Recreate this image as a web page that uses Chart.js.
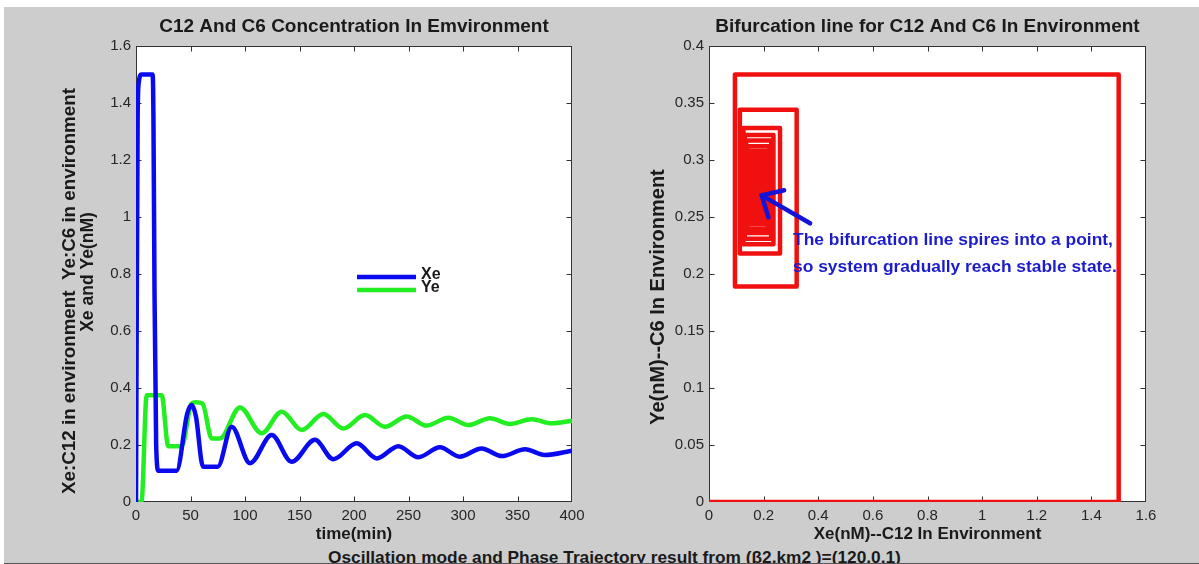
<!DOCTYPE html>
<html lang="en">
<head>
<meta charset="UTF-8">
<title>C12 / C6 oscillation and phase trajectory</title>
<script src="https://cdn.jsdelivr.net/npm/chart.js"></script>
<style>
    html, body {
        margin: 0;
        padding: 0;
        background: #fff;
    }
    body {
        position: relative;
        width: 1199px;
        height: 564px;
        overflow: hidden;
        font-family: 'Liberation Sans', Arial, sans-serif;
    }
    .panel {
        position: absolute;
        left: 4px;
        top: 7px;
        width: 1195px;
        height: 556px;
        background: #cdcdcd;
        border-bottom: 1px solid #555;
        overflow: hidden;
    }
    .caption {
        position: absolute;
        left: 324px;
        top: 540px;
        font-size: 17.3px;
        font-weight: bold;
        line-height: 20px;
        color: #1a1a1a;
        white-space: nowrap;
    }
    canvas {
        position: absolute;
        top: 0;
    }
    #timeChart { left: 0; }
    #phaseChart { left: 600px; }
</style>
</head>
<body>
<div class="panel">
    <div class="caption">Oscillation mode and Phase Trajectory result from (β2,km2 )=(120,0.1)</div>
</div>
<canvas id="timeChart" width="600" height="564"></canvas>
<canvas id="phaseChart" width="599" height="564"></canvas>

<script>
// Xe: C12 in environment (nM) over time (min)
const xeTime  = [0, 1.5, 2.5, 5, 15.3, 16, 17, 18.5, 20.5, 37.3, 47, 51, 55, 61.5, 75, 87.8, 104.6, 124.5, 142.8, 164.2, 181, 202.5, 220.8, 240.7, 259, 278.9, 297, 317, 335.5, 357, 375, 400];
const xeValue = [0, 1.35, 1.47, 1.5, 1.5, 1.35, 0.73, 0.2, 0.11, 0.11, 0.31, 0.34, 0.3, 0.124, 0.124, 0.264, 0.136, 0.235, 0.141, 0.218, 0.15, 0.206, 0.153, 0.196, 0.157, 0.192, 0.159, 0.188, 0.161, 0.185, 0.165, 0.18];

// Ye: C6 in environment (nM) over time (min)
const yeTime  = [0, 5, 9.8, 23.5, 29.6, 41.9, 51, 55, 61, 69.5, 77, 95.4, 115.3, 133.6, 152, 171.9, 190.2, 210, 228.4, 248.3, 266.7, 286.5, 304.9, 324.8, 343, 363, 381.4, 400];
const yeValue = [0, 0, 0.375, 0.375, 0.196, 0.196, 0.345, 0.35, 0.345, 0.223, 0.223, 0.332, 0.241, 0.317, 0.253, 0.309, 0.258, 0.305, 0.264, 0.3, 0.268, 0.296, 0.27, 0.294, 0.274, 0.29, 0.276, 0.285];

// phase trajectory (Xe, Ye): one corner per entry, spiralling in to the steady state
const phaseXe = [0, 1.5, 1.5,
    0.095, 0.095, 0.321, 0.321,
    0.113, 0.113, 0.26, 0.26,
    0.126, 0.126, 0.236, 0.236,
    0.131, 0.131, 0.228, 0.228,
    0.136, 0.136, 0.221, 0.221,
    0.14, 0.14, 0.215, 0.215,
    0.144, 0.144, 0.21, 0.21,
    0.148, 0.148, 0.206, 0.206,
    0.152, 0.152, 0.202, 0.202,
    0.155, 0.155, 0.198, 0.198,
    0.158, 0.158, 0.195, 0.195,
    0.161, 0.161, 0.192, 0.192,
    0.164, 0.164, 0.189, 0.189,
    0.167, 0.167, 0.187, 0.187,
    0.17, 0.17, 0.185, 0.185,
    0.175, 0.178];
const phaseYe = [0, 0, 0.375,
    0.375, 0.189, 0.189, 0.344,
    0.344, 0.218, 0.218, 0.328,
    0.328, 0.226, 0.226, 0.322,
    0.322, 0.231, 0.231, 0.317,
    0.317, 0.236, 0.236, 0.312,
    0.312, 0.24, 0.24, 0.308,
    0.308, 0.244, 0.244, 0.304,
    0.304, 0.248, 0.248, 0.3,
    0.3, 0.252, 0.252, 0.296,
    0.296, 0.255, 0.255, 0.293,
    0.293, 0.258, 0.258, 0.29,
    0.29, 0.261, 0.261, 0.287,
    0.287, 0.264, 0.264, 0.284,
    0.284, 0.267, 0.267, 0.281,
    0.281, 0.27, 0.27, 0.279,
    0.279, 0.275];

// annotation arrow: from tail to the point the spiral closes on
const arrowTail = [0.37, 0.2445];
const arrowTip  = [0.193, 0.269];
const noteLines = ['The bifurcation line spires into a point,', 'so system gradually reach stable state.'];

const BLUE = '#0a0aee';
const GREEN = '#22ee22';
const RED = '#f01010';
const INK = '#1a1a1a';
const FAMILY = "'Liberation Sans', Arial, sans-serif";

Chart.defaults.font.family = FAMILY;
Chart.defaults.color = '#262626';

const toPoints = (xs, ys) => xs.map((x, i) => ({ x: x, y: ys[i] }));

// white axes box with inward ticks on all four sides
const plotFrame = {
    id: 'plotFrame',
    beforeDraw(chart) {
        const { ctx, chartArea: a } = chart;
        ctx.save();
        ctx.fillStyle = '#fff';
        ctx.fillRect(a.left, a.top, a.width, a.height);
        ctx.restore();
    },
    beforeDatasetsDraw(chart) {
        const { ctx, chartArea: a, scales: { x, y } } = chart;
        const L = Math.round(a.left) + 0.5, R = Math.round(a.right) - 0.5;
        const T = Math.round(a.top) + 0.5, B = Math.round(a.bottom) - 0.5;
        const len = 5;
        ctx.save();
        ctx.strokeStyle = '#333';
        ctx.lineWidth = 1;
        ctx.strokeRect(L, T, R - L, B - T);
        ctx.beginPath();
        x.ticks.forEach(t => {
            const px = Math.round(x.getPixelForValue(t.value)) + 0.5;
            if (px <= L + 1 || px >= R - 1) return;
            ctx.moveTo(px, B); ctx.lineTo(px, B - len);
            ctx.moveTo(px, T); ctx.lineTo(px, T + len);
        });
        y.ticks.forEach(t => {
            const py = Math.round(y.getPixelForValue(t.value)) + 0.5;
            if (py <= T + 1 || py >= B - 1) return;
            ctx.moveTo(L, py); ctx.lineTo(L + len, py);
            ctx.moveTo(R, py); ctx.lineTo(R - len, py);
        });
        ctx.stroke();
        ctx.restore();
    }
};

// panel title centred over the axes box, plus the rotated y labels
const panelText = {
    id: 'panelText',
    afterDraw(chart, args, opts) {
        const { ctx, chartArea: a } = chart;
        ctx.save();
        ctx.fillStyle = INK;
        ctx.textAlign = 'center';
        ctx.textBaseline = 'middle';
        ctx.font = 'bold ' + opts.titleSize + 'px ' + FAMILY;
        ctx.fillText(opts.title, (a.left + a.right) / 2, opts.titleY);
        opts.yLabels.forEach(l => {
            ctx.save();
            ctx.translate(l.x, l.y);
            ctx.rotate(-Math.PI / 2);
            ctx.font = 'bold ' + l.size + 'px ' + FAMILY;
            ctx.fillText(l.text, 0, 0);
            ctx.restore();
        });
        ctx.restore();
    }
};

// small legend sitting inside the time plot
const curveLegend = {
    id: 'curveLegend',
    afterDatasetsDraw(chart) {
        const { ctx } = chart;
        const rows = [277, 290];
        ctx.save();
        ctx.font = 'bold 16px ' + FAMILY;
        ctx.textBaseline = 'middle';
        chart.data.datasets.forEach((ds, i) => {
            ctx.strokeStyle = ds.borderColor;
            ctx.lineWidth = 4.5;
            ctx.beginPath();
            ctx.moveTo(357, rows[i]);
            ctx.lineTo(416, rows[i]);
            ctx.stroke();
            ctx.fillStyle = INK;
            ctx.fillText(ds.label, 421, rows[i] - 2);
        });
        ctx.restore();
    }
};

// arrow and note pointing at the stable point
const stableNote = {
    id: 'stableNote',
    afterDatasetsDraw(chart) {
        const { ctx, scales: { x, y } } = chart;
        const tx = x.getPixelForValue(arrowTail[0]), ty = y.getPixelForValue(arrowTail[1]);
        const hx = x.getPixelForValue(arrowTip[0]), hy = y.getPixelForValue(arrowTip[1]);
        const back = Math.atan2(ty - hy, tx - hx);
        const wing = 23, spread = 0.75;
        ctx.save();
        ctx.strokeStyle = '#1414d8';
        ctx.lineWidth = 4.5;
        ctx.lineCap = 'round';
        ctx.beginPath();
        ctx.moveTo(tx, ty);
        ctx.lineTo(hx, hy);
        ctx.moveTo(hx + wing * Math.cos(back - spread), hy + wing * Math.sin(back - spread));
        ctx.lineTo(hx, hy);
        ctx.lineTo(hx + wing * Math.cos(back + spread), hy + wing * Math.sin(back + spread));
        ctx.stroke();
        ctx.fillStyle = '#1c1ccc';
        ctx.font = 'bold 17.4px ' + FAMILY;
        ctx.textBaseline = 'middle';
        noteLines.forEach((line, i) => ctx.fillText(line, tx - 17, ty + 17 + i * 27));
        ctx.restore();
    }
};

const tickFont = { size: 15 };
const labelFont = { size: 17, weight: 'bold' };
const fmt = v => String(+v.toFixed(3));

function axis(min, max, step, title, fitSize, horizontal) {
    return {
        type: 'linear',
        min: min,
        max: max,
        ticks: { stepSize: step, padding: 5, font: tickFont, color: '#262626', maxRotation: 0, callback: fmt },
        grid: { display: false, drawTicks: false },
        border: { display: false },
        title: { display: !!title, text: title, font: labelFont, color: INK, padding: { top: 0, bottom: 19 } },
        afterFit: horizontal ? s => { s.height = fitSize; } : s => { s.width = fitSize; }
    };
}

new Chart(document.getElementById('timeChart'), {
    type: 'line',
    data: {
        datasets: [{
            label: 'Xe',
            data: toPoints(xeTime, xeValue),
            borderColor: BLUE,
            borderWidth: 4.5,
            pointRadius: 0,
            cubicInterpolationMode: 'monotone'
        }, {
            label: 'Ye',
            data: toPoints(yeTime, yeValue),
            borderColor: GREEN,
            borderWidth: 4.5,
            pointRadius: 0,
            cubicInterpolationMode: 'monotone'
        }]
    },
    options: {
        responsive: false,
        animation: false,
        events: [],
        layout: { padding: { left: 61, right: 28, top: 46, bottom: 0 } },
        plugins: {
            legend: { display: false },
            tooltip: { enabled: false },
            panelText: {
                title: 'C12 And C6 Concentration In Emvironment',
                titleSize: 19,
                titleY: 27,
                yLabels: [
                    { text: 'Xe:C12 in environment  Ye:C6 in environment', x: 70, y: 291, size: 18.8 },
                    { text: 'Xe and Ye(nM)', x: 88, y: 272, size: 17.5 }
                ]
            }
        },
        scales: {
            x: axis(0, 400, 50, 'time(min)', 62, true),
            y: axis(0, 1.6, 0.2, '', 75, false)
        }
    },
    plugins: [plotFrame, curveLegend, panelText]
});

new Chart(document.getElementById('phaseChart'), {
    type: 'scatter',
    data: {
        datasets: [{
            label: 'trajectory',
            data: toPoints(phaseXe, phaseYe),
            showLine: true,
            borderColor: RED,
            borderWidth: 4.5,
            borderJoinStyle: 'round',
            pointRadius: 0
        }]
    },
    options: {
        responsive: false,
        animation: false,
        events: [],
        layout: { padding: { left: 49, right: 53, top: 46, bottom: 0 } },
        plugins: {
            legend: { display: false },
            tooltip: { enabled: false },
            panelText: {
                title: 'Bifurcation line for C12 And C6 In Environment',
                titleSize: 19,
                titleY: 27,
                yLabels: [
                    { text: 'Ye(nM)--C6 In Environment', x: 58, y: 297, size: 20 }
                ]
            }
        },
        scales: {
            x: axis(0, 1.6, 0.2, 'Xe(nM)--C12 In Environment', 62, true),
            y: axis(0, 0.4, 0.05, '', 60, false)
        }
    },
    plugins: [plotFrame, stableNote, panelText]
});
</script>
</body>
</html>
